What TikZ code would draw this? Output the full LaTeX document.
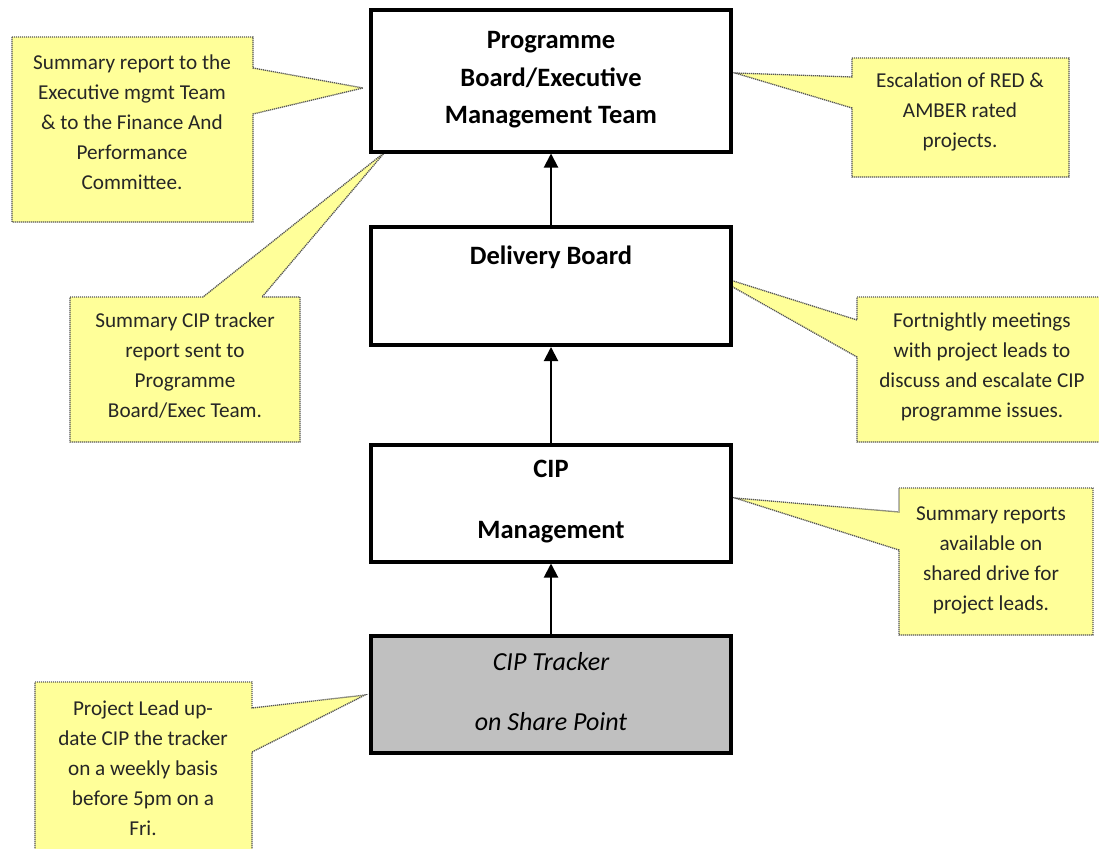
\documentclass[tikz,border=0pt]{standalone}
\usepackage{fontspec}
\setmainfont{Carlito}
\usetikzlibrary{arrows.meta}
\definecolor{noteyellow}{HTML}{FFFF99}
\definecolor{notebord}{HTML}{555555}
\definecolor{trackgray}{HTML}{C0C0C0}
\tikzset{
  mainbox/.style={draw=black, line width=4pt, fill=white, minimum width=360pt, inner sep=0pt},
  boxtext/.style={font=\fontsize{26.5}{37.5}\selectfont\bfseries, align=center, inner sep=0pt},
  notefill/.style={fill=noteyellow, draw=notebord, line width=1.3pt, dash pattern=on 1.2pt off 0.8pt},
  notetext/.style={font=\fontsize{21.2}{30}\selectfont, align=center, inner sep=0pt, text=black!85},
  uparrow/.style={line width=2pt, -{Triangle[length=14pt,width=14pt]}}
}
\begin{document}
\begin{tikzpicture}[x=1pt,y=-1pt]
\useasboundingbox (0,0) rectangle (1099,848);
% callout shapes
\path[notefill] (12,37) -- (253,37) -- (253,68) -- (363,88) -- (253,114) -- (253,222) -- (12,222) -- cycle;
\path[notefill] (852,58) -- (1069,58) -- (1069,177) -- (852,177) -- (852,108) -- (735,73) -- (852,77) -- cycle;
\path[notefill] (70,297) -- (203,297) -- (385,152) -- (262,297) -- (300,297) -- (300,442) -- (70,442) -- cycle;
\path[notefill] (857,297) -- (1104,297) -- (1104,442) -- (857,442) -- (857,357) -- (708,273) -- (857,320) -- cycle;
\path[notefill] (899,488) -- (1093,488) -- (1093,635) -- (899,635) -- (899,550) -- (735,498) -- (899,512) -- cycle;
\path[notefill] (35,682) -- (252,682) -- (252,708) -- (365,695) -- (252,752) -- (252,860) -- (35,860) -- cycle;
% main boxes
\node[mainbox, minimum height=141pt] (prog) at (551,81) {};
\node[mainbox, minimum height=118pt] (deliv) at (551,286) {};
\node[mainbox, minimum height=117pt] (cipm) at (551,503) {};
\node[mainbox, minimum height=117pt, fill=trackgray] (track) at (551,694) {};
% box texts
\node[boxtext] (progtxt) at (551,80) {Programme\\Board/Executive\\Management Team};
\node[boxtext] (delivtxt) at (551,257) {Delivery Board};
\node[boxtext] (cipmtxt) at (551,502) {CIP\\[23.5pt]Management};
\node[boxtext, font=\fontsize{26}{37.5}\selectfont\itshape] (tracktxt) at (551,692) {CIP Tracker\\[22.5pt]on Share Point};
% arrows
\draw[uparrow] (deliv.north) -- (prog.south);
\draw[uparrow] (cipm.north) -- (deliv.south);
\draw[uparrow] (track.north) -- (cipm.south);
% callout texts
\node[notetext] (n1) at (132,122) {Summary report to the\\Executive mgmt Team\\\& to the Finance And\\Performance\\Committee.};
\node[notetext] (n2) at (960,112) {Escalation of RED \&\\AMBER rated\\projects.};
\node[notetext] (n3) at (185,366) {Summary CIP tracker\\report sent to\\Programme\\Board/Exec Team.};
\node[notetext] (n4) at (982,367) {Fortnightly meetings\\with project leads to\\discuss and escalate CIP\\programme issues.};
\node[notetext] (n5) at (991,560) {Summary reports\\available on\\shared drive for\\project leads.};
\node[notetext] (n6) at (143,768) {Project Lead up-\\date CIP the tracker\\on a weekly basis\\before 5pm on a\\Fri.};
\end{tikzpicture}
\end{document}
